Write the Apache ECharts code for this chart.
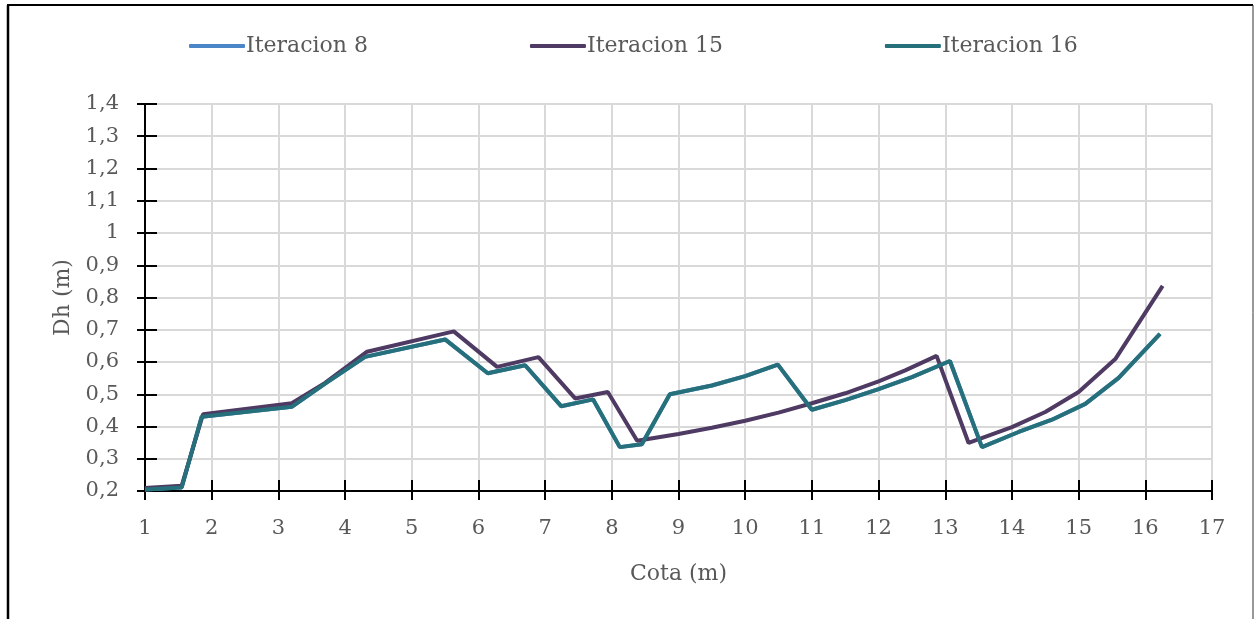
<!DOCTYPE html>
<html>
<head>
<meta charset="utf-8">
<script src="https://cdn.jsdelivr.net/npm/echarts@6/dist/echarts.min.js"></script>
<style>
  html, body { margin: 0; padding: 0; background: #fff; }
  #chart { width: 1255px; height: 619px; }
</style>
</head>
<body>
<div id="chart"></div>
<script>
// Cota (m) / Dh (m) pairs for each iteration
const cota8  = [1, 1.55, 1.85, 3.2, 3.7, 4.3, 5.5, 6.14, 6.7, 7.24, 7.72, 8.12, 8.45, 8.87, 9.5, 10.0, 10.49, 11.0, 11.5, 12.0, 12.5, 13.07, 13.55, 14.1, 14.6, 15.1, 15.6, 16.22];
const dh8    = [0.205, 0.211, 0.430, 0.461, 0.533, 0.616, 0.670, 0.565, 0.590, 0.463, 0.484, 0.336, 0.345, 0.500, 0.527, 0.556, 0.592, 0.452, 0.482, 0.516, 0.553, 0.603, 0.336, 0.383, 0.421, 0.470, 0.551, 0.687];

const cota15 = [1, 1.55, 1.87, 3.2, 3.7, 4.33, 5.63, 6.28, 6.9, 7.45, 7.94, 8.38, 9.0, 9.5, 10.0, 10.5, 11.0, 11.5, 12.0, 12.4, 12.87, 13.35, 14.0, 14.5, 15.0, 15.55, 16.26];
const dh15   = [0.209, 0.216, 0.438, 0.472, 0.535, 0.632, 0.695, 0.585, 0.615, 0.487, 0.507, 0.356, 0.377, 0.396, 0.418, 0.443, 0.472, 0.503, 0.540, 0.574, 0.619, 0.349, 0.398, 0.445, 0.507, 0.609, 0.836];

const cota16 = [1, 1.55, 1.85, 3.2, 3.7, 4.3, 5.5, 6.14, 6.7, 7.24, 7.72, 8.12, 8.45, 8.87, 9.5, 10.0, 10.49, 11.0, 11.5, 12.0, 12.5, 13.07, 13.55, 14.1, 14.6, 15.1, 15.6, 16.22];
const dh16   = [0.205, 0.211, 0.430, 0.461, 0.533, 0.616, 0.670, 0.565, 0.590, 0.463, 0.484, 0.336, 0.345, 0.500, 0.527, 0.556, 0.592, 0.452, 0.482, 0.516, 0.553, 0.603, 0.336, 0.383, 0.421, 0.470, 0.551, 0.687];

const seriesNames = ['Iteracion 8', 'Iteracion 15', 'Iteracion 16'];
const xTicks = { min: 1, max: 17, step: 1 };
const yTicks = { min: 0.2, max: 1.4, step: 0.1 };

const zip = (xs, ys) => xs.map((x, i) => [x, ys[i]]);

const FONT = 'DejaVu Serif';
const TEXT = '#595959';
const GRID = { left: 145, right: 43, top: 104, bottom: 128 };
const plotW = 1255 - GRID.left - GRID.right;
const plotH = 619 - GRID.top - GRID.bottom;

const chart = echarts.init(document.getElementById('chart'), null, { renderer: 'canvas' });

const fmtY = v => String(+v.toFixed(1)).replace('.', ',');

chart.setOption({
  animation: false,
  backgroundColor: '#ffffff',
  textStyle: { fontFamily: FONT },
  legend: {
    top: 30,
    left: 184,
    itemGap: 162,
    itemWidth: 56,
    itemHeight: 4,
    icon: 'roundRect',
    textStyle: { fontFamily: FONT, fontSize: 22, color: TEXT, padding: [0, 0, 0, -4] },
    data: seriesNames
  },
  grid: { left: GRID.left, right: GRID.right, top: GRID.top, bottom: GRID.bottom, containLabel: false },
  xAxis: [
    {
      type: 'value', min: xTicks.min, max: xTicks.max, interval: xTicks.step,
      name: 'Cota (m)', nameLocation: 'middle', nameGap: 72,
      nameTextStyle: { fontFamily: FONT, fontSize: 22, color: TEXT },
      axisLine: { lineStyle: { color: '#000', width: 2 } },
      axisTick: { show: true, inside: false, length: 9, lineStyle: { color: '#000', width: 2 } },
      axisLabel: { fontFamily: FONT, fontSize: 21, color: TEXT, margin: 27 },
      splitLine: { show: true, lineStyle: { color: '#d9d9d9', width: 2 } }
    },
    {
      // upward halves of the crossing ticks on the bottom axis
      type: 'value', min: xTicks.min, max: xTicks.max, interval: xTicks.step,
      position: 'top', offset: -plotH,
      axisLine: { show: false },
      axisTick: { show: true, inside: false, length: 11, lineStyle: { color: '#000', width: 2 } },
      axisLabel: { show: false },
      splitLine: { show: false }
    }
  ],
  yAxis: [
    {
      type: 'value', min: yTicks.min, max: yTicks.max, interval: yTicks.step,
      name: 'Dh (m)', nameLocation: 'middle', nameGap: 70,
      nameTextStyle: { fontFamily: FONT, fontSize: 22, color: TEXT },
      axisLine: { show: true, lineStyle: { color: '#000', width: 2 } },
      axisTick: { show: true, inside: false, length: 8, lineStyle: { color: '#000', width: 2 } },
      axisLabel: { fontFamily: FONT, fontSize: 21, color: TEXT, margin: 26, formatter: fmtY },
      splitLine: { show: true, lineStyle: { color: '#d9d9d9', width: 2 } }
    },
    {
      // rightward halves of the crossing ticks on the left axis
      type: 'value', min: yTicks.min, max: yTicks.max, interval: yTicks.step,
      position: 'right', offset: -plotW,
      axisLine: { show: false },
      axisTick: { show: true, inside: false, length: 12, lineStyle: { color: '#000', width: 2 } },
      axisLabel: { show: false },
      splitLine: { show: false }
    }
  ],
  series: [
    {
      name: seriesNames[0], type: 'line', symbol: 'none', z: 3,
      data: zip(cota8, dh8),
      itemStyle: { color: '#4a86c8' },
      lineStyle: { color: '#4a86c8', width: 4 }
    },
    {
      name: seriesNames[1], type: 'line', symbol: 'none', z: 4,
      data: zip(cota15, dh15),
      itemStyle: { color: '#4e3a62' },
      lineStyle: { color: '#4e3a62', width: 4 }
    },
    {
      name: seriesNames[2], type: 'line', symbol: 'none', z: 5,
      data: zip(cota16, dh16),
      itemStyle: { color: '#26707c' },
      lineStyle: { color: '#26707c', width: 4 }
    }
  ],
  graphic: [
    { type: 'line', shape: { x1: 8, y1: 5, x2: 8, y2: 640 }, style: { stroke: '#000', lineWidth: 2.5 } },
    { type: 'line', shape: { x1: 7, y1: 5, x2: 1253, y2: 5 }, style: { stroke: '#000', lineWidth: 2 } },
    { type: 'line', shape: { x1: 1253, y1: 5, x2: 1253, y2: 640 }, style: { stroke: '#333', lineWidth: 1 } }
  ]
});
</script>
</body>
</html>
